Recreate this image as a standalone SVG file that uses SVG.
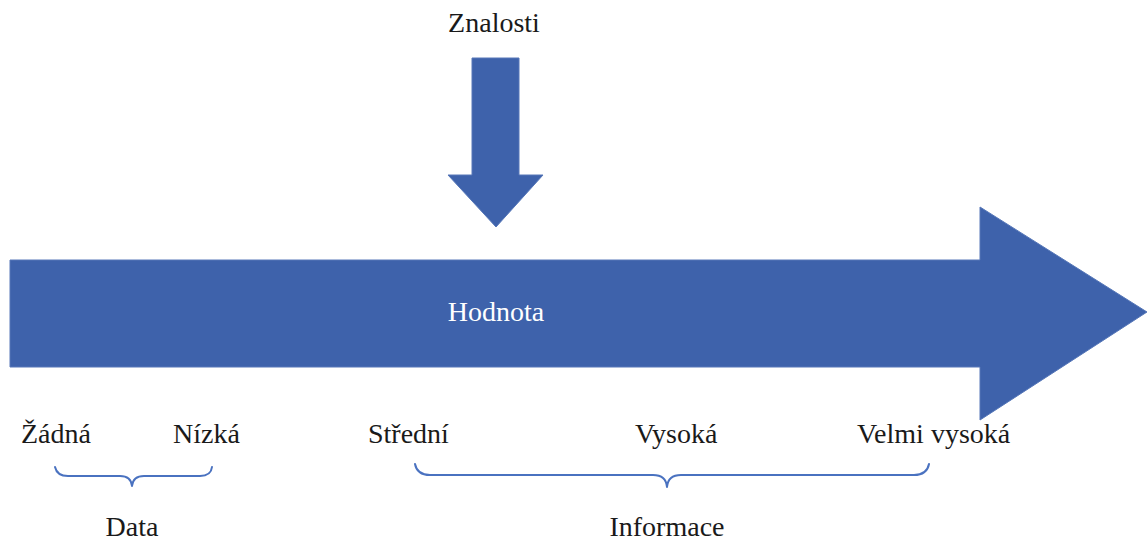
<svg xmlns="http://www.w3.org/2000/svg" width="1147" height="541" viewBox="0 0 1147 541">
<style>
.arrow{fill:#3E62AB;stroke:#5677B8;stroke-width:1}
.t{font-family:"Liberation Serif","Times New Roman",serif;font-size:28px;fill:#1a1a1a}
.w{fill:#ffffff}
.brace{fill:none;stroke:#4A72C0;stroke-width:2;stroke-linecap:round;stroke-linejoin:round}
</style>
<rect width="1147" height="541" fill="#ffffff"/>
<g id="hodnota">
<polygon class="arrow" points="10,260 980,260 980,207 1147,312 980,420 980,367 10,367"/>
<text class="t w" x="496" y="321" text-anchor="middle">Hodnota</text>
</g>
<g id="znalosti">
<text class="t" x="494" y="32" text-anchor="middle">Znalosti</text>
<polygon class="arrow" points="472,58 519,58 519,175 543,175 496,227 448,175 472,175"/>
</g>
<g id="labels">
<text class="t" x="21" y="443">Žádná</text>
<text class="t" x="173" y="443">Nízká</text>
<text class="t" x="368" y="443">Střední</text>
<text class="t" x="635" y="443">Vysoká</text>
<text class="t" x="857" y="443">Velmi vysoká</text>
</g>
<g id="connectors">
<path class="brace" d="M55,467 Q57,476 68,476 L120,476 Q131,476 132,486 Q133,476 144,476 L200,476 Q211,476 212,467"/>
<path class="brace" d="M415,464 Q417,475 430,475 L653,475 Q666,475 667,487 Q668,475 681,475 L914,475 Q927,475 929,464"/>
</g>
<g id="data">
<text class="t" x="132" y="536" text-anchor="middle">Data</text>
</g>
<g id="informace">
<text class="t" x="667" y="536" text-anchor="middle">Informace</text>
</g>
</svg>
